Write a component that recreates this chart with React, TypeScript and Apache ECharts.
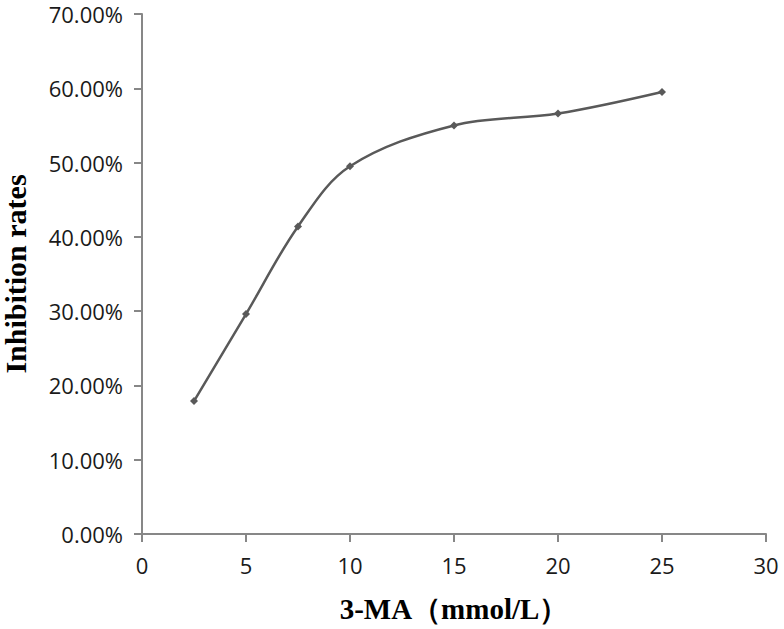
import React, { useEffect, useRef } from "react";
import * as echarts from "echarts";

const concentrations = [2.5, 5, 7.5, 10, 15, 20, 25];
const inhibitionRates = [0.179, 0.296, 0.414, 0.495, 0.55, 0.566, 0.595];
const xTicks = { min: 0, max: 30, interval: 5 };
const yTicks = { min: 0, max: 0.7, interval: 0.1 };
const xTitle = "3-MA（mmol/L）";
const yTitle = "Inhibition rates";

export default function App() {
  const ref = useRef<HTMLDivElement>(null);
  useEffect(() => {
    if (!ref.current) return;
    const chart = echarts.init(ref.current, undefined, { renderer: "svg" });
    const axisColor = "#878787";
    const labelColor = "#1a1a1a";
    chart.setOption({
      animation: false,
      backgroundColor: "#ffffff",
      grid: { left: 142, right: 18, top: 14, bottom: 95, containLabel: false, outerBoundsMode: "none" },
      xAxis: {
        type: "value",
        min: xTicks.min,
        max: xTicks.max,
        interval: xTicks.interval,
        name: xTitle,
        nameLocation: "middle",
        nameGap: 60,
        nameTextStyle: {
          fontFamily: "Liberation Serif",
          fontWeight: "bold",
          fontSize: 29,
          color: "#000000",
        },
        axisLine: { show: true, lineStyle: { color: axisColor, width: 2 } },
        axisTick: { show: true, length: 8, lineStyle: { color: axisColor, width: 2 } },
        axisLabel: {
          margin: 20,
          fontFamily: "Open Sans",
          fontSize: 22,
          color: labelColor,
          showMinLabel: true,
          showMaxLabel: true,
        },
        splitLine: { show: false },
      },
      yAxis: {
        type: "value",
        min: yTicks.min,
        max: yTicks.max,
        interval: yTicks.interval,
        name: yTitle,
        nameLocation: "middle",
        nameGap: 112,
        nameTextStyle: {
          fontFamily: "Liberation Serif",
          fontWeight: "bold",
          fontSize: 30,
          color: "#000000",
        },
        axisLine: { show: true, lineStyle: { color: axisColor, width: 2 } },
        axisTick: { show: true, length: 8, lineStyle: { color: axisColor, width: 2 } },
        axisLabel: {
          margin: 19,
          fontFamily: "Open Sans",
          fontSize: 22,
          color: labelColor,
          showMinLabel: true,
          showMaxLabel: true,
          formatter: (v: number) => (v * 100).toFixed(2) + "%",
        },
        splitLine: { show: false },
      },
      series: [
        {
          type: "line",
          data: concentrations.map((c, i) => [c, inhibitionRates[i]]),
          smooth: 0.35,
          symbol: "diamond",
          symbolSize: 8,
          lineStyle: { color: "#595959", width: 2.5 },
          itemStyle: { color: "#595959" },
        },
      ],
    });
    return () => chart.dispose();
  }, []);
  return (
    <div
      ref={ref}
      style={{ position: "absolute", left: 0, top: 0, width: 784, height: 629 }}
    />
  );
}
